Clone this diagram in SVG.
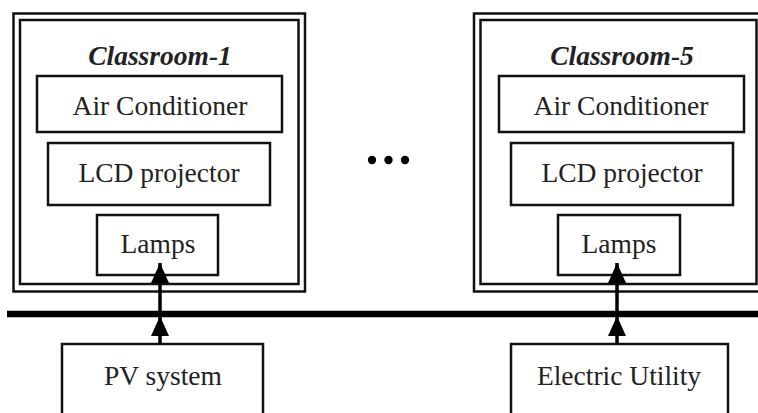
<svg xmlns="http://www.w3.org/2000/svg" width="758" height="413" viewBox="0 0 758 413">
<style>
.box{fill:#fff;stroke:#111;stroke-width:2.5}
.frame{fill:none;stroke:#111;stroke-width:2.5}
.t{font-family:"Liberation Serif","Times New Roman",serif;font-size:27.5px;fill:#222;text-anchor:middle}
.h{font-weight:bold;font-style:italic}
.wire{stroke:#000;stroke-width:3.5;fill:none}
</style>
<defs>
<marker id="ah" viewBox="0 0 20 18" refX="20" refY="9" markerWidth="20" markerHeight="18" markerUnits="userSpaceOnUse" orient="auto">
<path d="M0,0 L20,9 L0,18 Z" fill="#000"/>
</marker>
</defs>
<rect width="758" height="413" fill="#fff"/>
<g id="classroom1">
<rect class="frame" x="13.5" y="13.5" width="291.5" height="278"/>
<rect class="frame" x="20" y="20" width="278.5" height="264"/>
<text class="t h" x="160" y="65">Classroom-1</text>
</g>
<g id="ac1"><rect class="box" x="37" y="76" width="245" height="56"/><text class="t" x="160" y="115">Air Conditioner</text></g>
<g id="lcd1"><rect class="box" x="48" y="143" width="222" height="62"/><text class="t" x="159" y="182">LCD projector</text></g>
<g id="lamps1"><rect class="box" x="97" y="215" width="121" height="60"/><text class="t" x="158" y="253">Lamps</text></g>
<g id="classroom5">
<rect class="frame" x="474" y="13.5" width="295" height="278"/>
<rect class="frame" x="480.5" y="20" width="276" height="264"/>
<text class="t h" x="622" y="65">Classroom-5</text>
</g>
<g id="ac5"><rect class="box" x="499" y="76" width="245" height="56"/><text class="t" x="621" y="115">Air Conditioner</text></g>
<g id="lcd5"><rect class="box" x="511" y="143" width="222" height="62"/><text class="t" x="622" y="182">LCD projector</text></g>
<g id="lamps5"><rect class="box" x="558" y="215" width="122" height="60"/><text class="t" x="619" y="253">Lamps</text></g>
<g id="dots" fill="#000">
<circle cx="372" cy="160" r="4.2"/><circle cx="388.5" cy="160" r="4.2"/><circle cx="405" cy="160" r="4.2"/>
</g>
<g id="pv"><rect class="box" x="62" y="344" width="201" height="80"/><text class="t" x="163" y="385">PV system</text></g>
<g id="utility"><rect class="box" x="511" y="344" width="217" height="80"/><text class="t" x="619" y="385">Electric Utility</text></g>
<g id="connectors">
<line x1="7" y1="314" x2="758" y2="314" stroke="#000" stroke-width="6.5"/>
<line class="wire" x1="160" y1="344" x2="160" y2="316" marker-end="url(#ah)"/>
<line class="wire" x1="617" y1="344" x2="617" y2="316" marker-end="url(#ah)"/>
<line class="wire" x1="160" y1="314" x2="160" y2="263" marker-end="url(#ah)"/>
<line class="wire" x1="617" y1="314" x2="617" y2="263" marker-end="url(#ah)"/>
</g>
</svg>
